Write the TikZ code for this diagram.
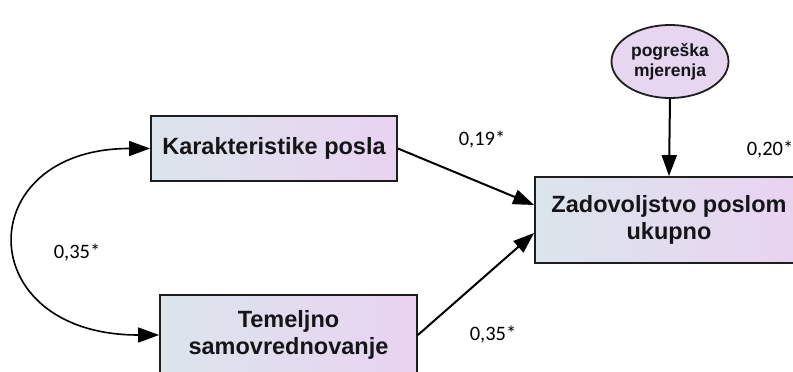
\documentclass[tikz,border=0pt]{standalone}
\usepackage{fontspec}
\setmainfont{Liberation Sans}
\newfontfamily\coeffont{Carlito}
\usetikzlibrary{arrows.meta,shapes.geometric,calc}
\definecolor{boxleft}{RGB}{219,229,235}
\definecolor{boxright}{RGB}{233,211,241}
\definecolor{ellfill}{RGB}{231,214,240}
\definecolor{boxline}{RGB}{30,30,30}
\definecolor{textdark}{RGB}{20,20,25}
\begin{document}
\begin{tikzpicture}[x=1pt,y=-1pt,
  varbox/.style={draw=boxline, line width=1.8pt, left color=boxleft, right color=boxright,
    font=\fontsize{23.5}{27}\selectfont\bfseries, text=textdark, align=center, inner sep=0pt},
  errell/.style={ellipse, draw=boxline, line width=1.8pt, fill=ellfill,
    font=\fontsize{17.5}{20}\selectfont\bfseries, text=textdark, align=center, inner sep=0pt,
    minimum width=117pt, minimum height=73pt},
  coef/.style={font=\coeffont\fontsize{20.5}{24}\selectfont, text=black, inner sep=0pt},
  patharrow/.style={-{Triangle[length=21pt,width=15pt]}, line width=2pt, draw=black},
  corrarrow/.style={{Triangle[length=21pt,width=15pt]}-{Triangle[length=21pt,width=15pt]}, line width=1.6pt, draw=black}
]
\useasboundingbox (0,0) rectangle (793,372);

\node[varbox, minimum width=246pt, minimum height=65pt] (k) at (274,148.5) {Karakteristike posla};
\node[varbox, minimum width=268pt, minimum height=86pt] (z) at (669,220) {Zadovoljstvo poslom\\ukupno};
\node[varbox, minimum width=257pt, minimum height=80pt] (t) at (288.5,335) {Temeljno\\samovrednovanje};
\node[errell] (e) at (670,61.5) {pogreška\\mjerenja};

\draw[patharrow] (k.east) -- ($(z.west)+(0,-15)$);
\draw[patharrow] (t.east) -- ($(z.west)+(0,13)$);
\draw[patharrow] (e.south) -- (z.north);
\draw[corrarrow] (k.west) .. controls ($(k.west)+(-180,0)$) and ($(t.west)+(-189,0)$) .. (t.west);

\node[coef] (c1) at (482,140) {0,19*};
\node[coef] (c2) at (493,335) {0,35*};
\node[coef] (c3) at (770,150) {0,20*};
\node[coef] (c4) at (77,253) {0,35*};
\end{tikzpicture}
\end{document}
